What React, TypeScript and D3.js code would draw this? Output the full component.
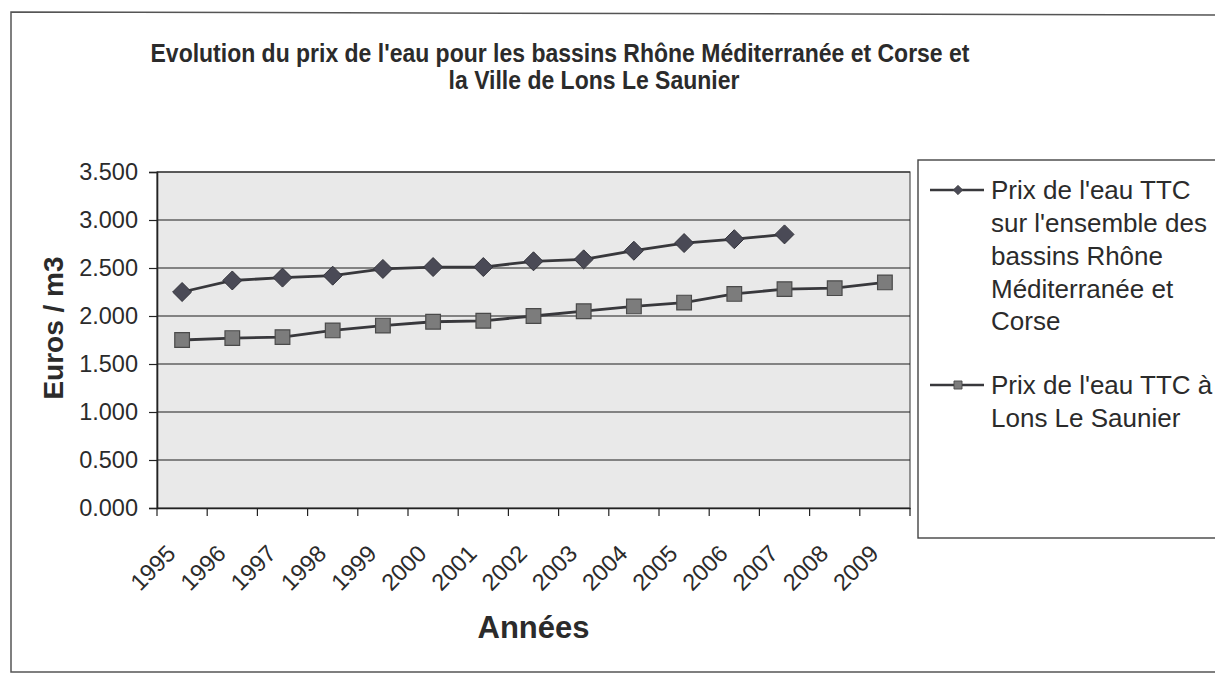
import * as d3 from "d3";
import { useEffect, useRef } from "react";

const WIDTH = 1215;
const HEIGHT = 674;
const MARGIN = { top: 172, right: 305, bottom: 166, left: 157 };
const FONT = "'Liberation Sans', Arial, sans-serif";

const YEARS = [
  "1995", "1996", "1997", "1998", "1999", "2000", "2001", "2002",
  "2003", "2004", "2005", "2006", "2007", "2008", "2009",
];

// Prix de l'eau TTC, bassins Rhône Méditerranée et Corse (jusqu'à 2007)
const PRIX_BASSINS = [
  2.25, 2.37, 2.40, 2.42, 2.49, 2.51, 2.51, 2.57, 2.59, 2.68, 2.76, 2.80, 2.85,
];

// Prix de l'eau TTC à Lons Le Saunier
const PRIX_LONS = [
  1.75, 1.77, 1.78, 1.85, 1.90, 1.94, 1.95, 2.00, 2.05, 2.10, 2.14, 2.23, 2.28,
  2.29, 2.35,
];

const Y_TICKS = [0, 0.5, 1, 1.5, 2, 2.5, 3, 3.5];

const TITLE_LINES = [
  "Evolution du prix de l'eau pour les bassins Rhône Méditerranée et Corse et",
  "la Ville de Lons Le Saunier",
];

const LEGEND_BASSINS = [
  "Prix de l'eau TTC",
  "sur l'ensemble des",
  "bassins Rhône",
  "Méditerranée et",
  "Corse",
];
const LEGEND_LONS = ["Prix de l'eau TTC à", "Lons Le Saunier"];

const LINE_COLOR = "#38383c";
const DIAMOND_FILL = "#4a4a56";
const SQUARE_FILL = "#7c7c7c";
const TEXT_COLOR = "#2b2b2b";

const Chart = () => {
  const ref = useRef<SVGSVGElement>(null);

  useEffect(() => {
    const svg = d3.select(ref.current);
    svg.selectAll("*").remove();

    const innerW = WIDTH - MARGIN.left - MARGIN.right;
    const innerH = HEIGHT - MARGIN.top - MARGIN.bottom;

    const x = d3.scaleBand<string>().domain(YEARS).range([0, innerW]);
    const y = d3.scaleLinear().domain([0, 3.5]).range([innerH, 0]);
    const cx = (d: string) => (x(d) ?? 0) + x.bandwidth() / 2;

    // outer frame
    svg
      .append("path")
      .attr("d", `M1225,15 L11,12 L11,672 L1225,672`)
      .attr("fill", "none")
      .attr("stroke", "#555")
      .attr("stroke-width", 1.5);

    // title (the scan is a little stretched vertically)
    const titleX = [560, 594];
    TITLE_LINES.forEach((line, i) => {
      svg
        .append("text")
        .attr("transform", `translate(${titleX[i]},${62 + i * 27}) scale(1,1.15)`)
        .attr("text-anchor", "middle")
        .attr("fill", TEXT_COLOR)
        .style("font-family", FONT)
        .style("font-size", "23px")
        .style("font-weight", "bold")
        .text(line);
    });

    const g = svg
      .append("g")
      .attr("transform", `translate(${MARGIN.left},${MARGIN.top})`);

    // plot area
    g.append("rect")
      .attr("width", innerW)
      .attr("height", innerH)
      .attr("fill", "#e9e9e9")
      .attr("stroke", "#555")
      .attr("stroke-width", 1.2);

    // gridlines
    g.selectAll("line.grid")
      .data(Y_TICKS.slice(1))
      .enter()
      .append("line")
      .attr("class", "grid")
      .attr("x1", 0)
      .attr("x2", innerW)
      .attr("y1", (d) => y(d))
      .attr("y2", (d) => y(d))
      .attr("stroke", "#1e1e1e")
      .attr("stroke-width", 1.2);

    // y axis
    const yAxis = g
      .append("g")
      .call(
        d3
          .axisLeft(y)
          .tickValues(Y_TICKS)
          .tickSize(8)
          .tickPadding(11)
          .tickFormat(d3.format(".3f"))
      );
    yAxis.select(".domain").attr("stroke", "#222").attr("stroke-width", 1.6);
    yAxis.selectAll(".tick line").attr("stroke", "#222").attr("stroke-width", 1.2);
    yAxis
      .selectAll(".tick text")
      .attr("fill", TEXT_COLOR)
      .style("font-family", FONT)
      .style("font-size", "23.5px");

    // x axis
    const xAxis = g
      .append("g")
      .attr("transform", `translate(0,${innerH})`)
      .call(d3.axisBottom(x).tickSize(0).tickFormat(() => ""));
    xAxis.select(".domain").attr("stroke", "#222").attr("stroke-width", 1.6);

    g.selectAll("line.xtick")
      .data(YEARS)
      .enter()
      .append("line")
      .attr("class", "xtick")
      .attr("x1", (d) => x(d) ?? 0)
      .attr("x2", (d) => x(d) ?? 0)
      .attr("y1", innerH)
      .attr("y2", innerH + 8)
      .attr("stroke", "#222")
      .attr("stroke-width", 1.2);
    g.append("line")
      .attr("x1", innerW)
      .attr("x2", innerW)
      .attr("y1", innerH)
      .attr("y2", innerH + 8)
      .attr("stroke", "#222")
      .attr("stroke-width", 1.2);

    g.selectAll("text.xlabel")
      .data(YEARS)
      .enter()
      .append("text")
      .attr("class", "xlabel")
      .attr("text-anchor", "end")
      .attr("fill", TEXT_COLOR)
      .attr(
        "transform",
        (d) => `translate(${cx(d) - 5},${innerH + 47}) rotate(-45)`
      )
      .style("font-family", FONT)
      .style("font-size", "23.5px")
      .text((d) => d);

    // axis titles
    g.append("text")
      .attr("x", innerW / 2)
      .attr("y", 638 - MARGIN.top)
      .attr("text-anchor", "middle")
      .attr("fill", TEXT_COLOR)
      .style("font-family", FONT)
      .style("font-size", "31px")
      .style("font-weight", "bold")
      .text("Années");

    svg
      .append("text")
      .attr("transform", `translate(63,328) rotate(-90)`)
      .attr("text-anchor", "middle")
      .attr("fill", TEXT_COLOR)
      .style("font-family", FONT)
      .style("font-size", "28px")
      .style("font-weight", "bold")
      .text("Euros / m3");

    // lines
    const line = d3
      .line<number>()
      .x((_, i) => cx(YEARS[i]))
      .y((d) => y(d));

    [PRIX_BASSINS, PRIX_LONS].forEach((serie) => {
      g.append("path")
        .datum(serie)
        .attr("d", line)
        .attr("fill", "none")
        .attr("stroke", LINE_COLOR)
        .attr("stroke-width", 2.8);
    });

    const diamond = d3.symbol().type(d3.symbolDiamond2).size(230);
    const square = d3.symbol().type(d3.symbolSquare).size(215);

    g.selectAll("path.diamond")
      .data(PRIX_BASSINS)
      .enter()
      .append("path")
      .attr("class", "diamond")
      .attr("d", diamond)
      .attr("transform", (d, i) => `translate(${cx(YEARS[i])},${y(d)})`)
      .attr("fill", DIAMOND_FILL)
      .attr("stroke", "#33333b")
      .attr("stroke-width", 1);

    g.selectAll("path.square")
      .data(PRIX_LONS)
      .enter()
      .append("path")
      .attr("class", "square")
      .attr("d", square)
      .attr("transform", (d, i) => `translate(${cx(YEARS[i])},${y(d)})`)
      .attr("fill", SQUARE_FILL)
      .attr("stroke", "#4a4a4a")
      .attr("stroke-width", 1.2);

    // legend
    const legend = svg.append("g").attr("transform", "translate(918,160)");
    legend
      .append("rect")
      .attr("width", 320)
      .attr("height", 378)
      .attr("fill", "#fff")
      .attr("stroke", "#444")
      .attr("stroke-width", 1.4);

    const entries = [
      { lines: LEGEND_BASSINS, y: 30, marker: diamond, fill: DIAMOND_FILL, size: 0.5 },
      { lines: LEGEND_LONS, y: 225, marker: square, fill: SQUARE_FILL, size: 0.55 },
    ];
    entries.forEach((e) => {
      legend
        .append("line")
        .attr("x1", 12)
        .attr("x2", 66)
        .attr("y1", e.y)
        .attr("y2", e.y)
        .attr("stroke", LINE_COLOR)
        .attr("stroke-width", 2.4);
      legend
        .append("path")
        .attr("d", e.marker)
        .attr("transform", `translate(40,${e.y}) scale(${e.size})`)
        .attr("fill", e.fill)
        .attr("stroke", "#444")
        .attr("stroke-width", 1.5);
      e.lines.forEach((t, i) => {
        legend
          .append("text")
          .attr("x", 73)
          .attr("y", e.y + i * 32.8)
          .attr("dy", "0.35em")
          .attr("fill", TEXT_COLOR)
          .style("font-family", FONT)
          .style("font-size", "26px")
          .text(t);
      });
    });
  }, []);

  return <svg ref={ref} width={WIDTH} height={HEIGHT} />;
};

export default function App() {
  return (
    <div
      style={{
        position: "absolute",
        left: 0,
        top: 0,
        width: WIDTH,
        height: HEIGHT,
        overflow: "hidden",
        background: "#fff",
      }}
    >
      <Chart />
    </div>
  );
}
